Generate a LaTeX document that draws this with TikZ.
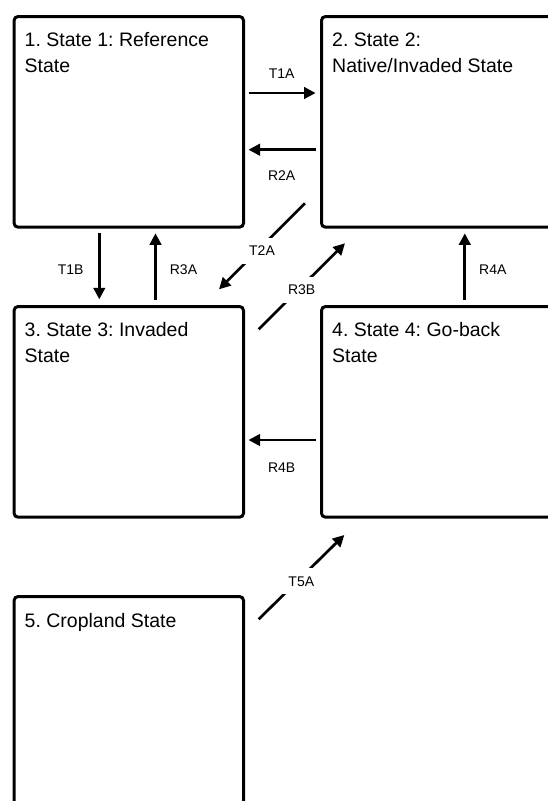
\documentclass[tikz,border=0pt]{standalone}
\usepackage{fontspec}
\setmainfont{Liberation Sans}
\usetikzlibrary{arrows.meta}
\frenchspacing
\begin{document}
\begin{tikzpicture}[x=1pt,y=-1pt,
  statebox/.style={draw=black, line width=3pt, rounded corners=4pt, anchor=north west, inner sep=0pt},
  statetext/.style={anchor=north west, inner sep=0pt, align=left, font=\fontsize{19.5}{25.6}\selectfont},
  conn/.style={line width=2.7pt, -{Triangle[length=11.5pt,width=11.5pt]}},
  lbl/.style={font=\fontsize{14}{16}\selectfont, inner sep=1pt},
  gaplbl/.style={lbl, fill=white, inner sep=8pt}
]
\clip (0,0) rectangle (548,801);
\fill[white] (0,0) rectangle (548,801);

% connector end points
\coordinate (t1a0) at (248.5,93);   \coordinate (t1a1) at (315.6,93);
\coordinate (r2a0) at (315.6,149.7); \coordinate (r2a1) at (248.5,149.7);
\coordinate (t2a0) at (305,203.3);  \coordinate (t2a1) at (219,289.3);
\coordinate (r3b0) at (258.6,329.3); \coordinate (r3b1) at (345,243.3);
\coordinate (t1b0) at (99.3,232.7); \coordinate (t1b1) at (99.3,299.3);
\coordinate (r3a0) at (155.5,300);  \coordinate (r3a1) at (155.5,233.3);
\coordinate (r4a0) at (464.8,300);  \coordinate (r4a1) at (464.8,233.3);
\coordinate (r4b0) at (315.6,440);  \coordinate (r4b1) at (248.5,440);
\coordinate (t5a0) at (258.6,619.3); \coordinate (t5a1) at (344.3,535);

\draw[conn] (t1a0) -- (t1a1);
\draw[conn] (r2a0) -- (r2a1);
\draw[conn] (t2a0) -- (t2a1);
\draw[conn] (r3b0) -- (r3b1);
\draw[conn] (t1b0) -- (t1b1);
\draw[conn] (r3a0) -- (r3a1);
\draw[conn] (r4a0) -- (r4a1);
\draw[conn] (r4b0) -- (r4b1);
\draw[conn] (t5a0) -- (t5a1);

% connector labels
\node[lbl] (lt1a) at (281.7,73.3) {T1A};
\node[lbl] (lr2a) at (281.7,176) {R2A};
\node[gaplbl] (lt2a) at (262,251) {T2A};
\node[gaplbl] (lr3b) at (301.7,290) {R3B};
\node[lbl] (lt1b) at (70.6,270) {T1B};
\node[lbl] (lr3a) at (183.5,270) {R3A};
\node[lbl] (lr4a) at (492.8,270) {R4A};
\node[lbl] (lr4b) at (281.7,467.7) {R4B};
\node[gaplbl] (lt5a) at (301.3,581.3) {T5A};

% state boxes
\node[statebox, minimum width=229.4pt, minimum height=210.7pt] (s1) at (12.6,15) {};
\node[statebox, minimum width=240pt, minimum height=210.7pt] (s2) at (320,15) {};
\node[statebox, minimum width=229.4pt, minimum height=210.7pt] (s3) at (12.6,305) {};
\node[statebox, minimum width=240pt, minimum height=210.7pt] (s4) at (320,305) {};
\node[statebox, minimum width=229.4pt, minimum height=240pt] (s5) at (12.6,595) {};

% state texts
\node[statetext] (x1) at (24.5,28.8) {\strut 1. State 1: Reference\\State};
\node[statetext] (x2) at (332,28.8) {\strut 2. State 2:\\Native/Invaded State};
\node[statetext] (x3) at (24.5,318.8) {\strut 3. State 3: Invaded\\State};
\node[statetext] (x4) at (332,318.8) {\strut 4. State 4: Go-back\\State};
\node[statetext] (x5) at (24.5,609.5) {\strut 5. Cropland State};
\end{tikzpicture}
\end{document}
